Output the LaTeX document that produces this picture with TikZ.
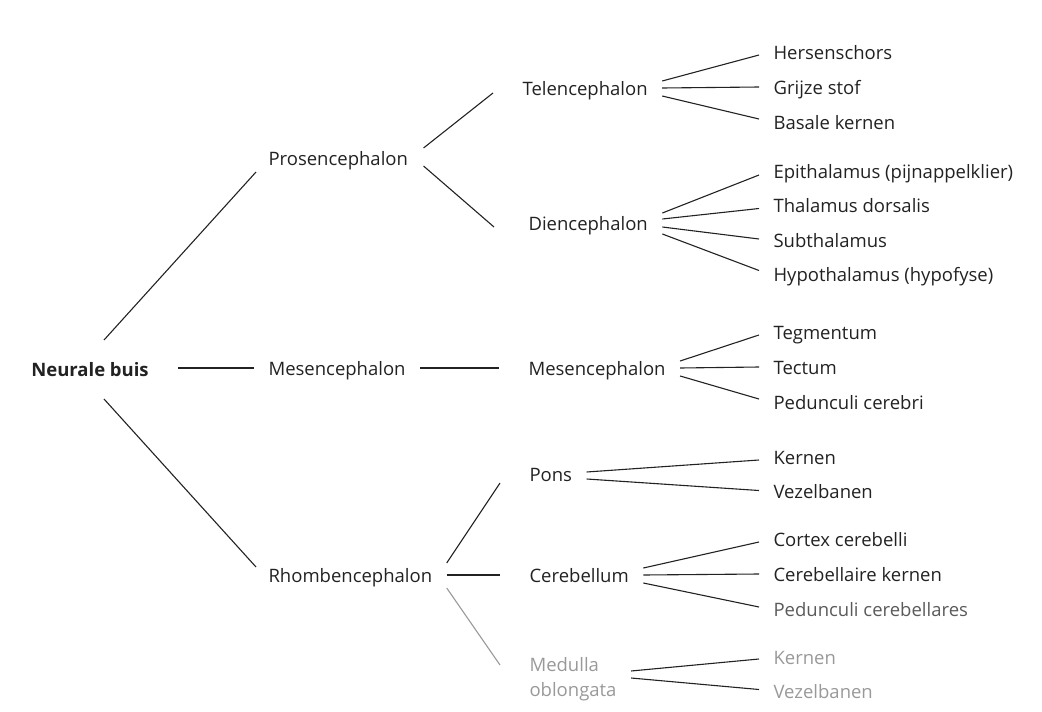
\documentclass[tikz,border=0pt]{standalone}
\usepackage{fontspec}
\setmainfont{Open Sans}
\usetikzlibrary{positioning}
\definecolor{inkgray}{HTML}{222222}
\definecolor{fadegray}{HTML}{999999}
\definecolor{midgray}{HTML}{5A5A5A}
\begin{document}
\begin{tikzpicture}[x=1pt, y=-1pt, line width=1.1pt, draw=inkgray,
    part/.style={anchor=west, inner xsep=14pt, inner ysep=0pt, text height=2.9ex, text depth=.25ex},
    root/.style={font=\fontsize{18.5pt}{22pt}\selectfont\bfseries, inner sep=0pt},
    faded/.style={text=fadegray}]
            \tikzstyle{every node}=[font=\fontsize{18.5pt}{25pt}\selectfont, text=inkgray]
            \useasboundingbox (0,0) rectangle (1042,712);

              % stam en hoofddelen
              \node[root] (buis) at (90,370) {Neurale buis};
              \node[part] (pros) at (254,158) {Prosencephalon};
              \node[part] (mesa) at (254,368) {Mesencephalon};
              \node[part] (rhomb) at (254,575) {Rhombencephalon};

              % tweede niveau
              \node[part] (tel) at (508,88) {Telencephalon};
              \node[part] (dien) at (514,223) {Diencephalon};
              \node[part] (mesb) at (514,368) {Mesencephalon};
              \node[part] (pons) at (515,474) {Pons};
              \node[part] (cereb) at (515,575) {Cerebellum};
              \node[part, faded, align=left, text height=, text depth=] (medulla) at (515,679) {Medulla\\oblongata};

              % onderdelen
              \node[part] (hers) at (759,52) {Hersenschors};
              \node[part] (grijze) [below=35pt of hers.west, anchor=west] {Grijze stof};
              \node[part] (basale) [below=35pt of grijze.west, anchor=west] {Basale kernen};

              \node[part] (epi) at (759,171) {Epithalamus (pijnappelklier)};
              \node[part] (thal) [below=34.5pt of epi.west, anchor=west] {Thalamus dorsalis};
              \node[part] (sub) [below=34.5pt of thal.west, anchor=west] {Subthalamus};
              \node[part] (hypo) [below=34.5pt of sub.west, anchor=west] {Hypothalamus (hypofyse)};

              \node[part] (teg) at (759,332) {Tegmentum};
              \node[part] (tect) [below=35pt of teg.west, anchor=west] {Tectum};
              \node[part] (pedb) [below=35pt of tect.west, anchor=west] {Pedunculi cerebri};

              \node[part] (kerna) at (759,457) {Kernen};
              \node[part] (veza) [below=34.5pt of kerna.west, anchor=west] {Vezelbanen};

              \node[part] (cortex) at (759,539) {Cortex cerebelli};
              \node[part] (cerk) [below=35pt of cortex.west, anchor=west] {Cerebellaire kernen};
              \node[part, text=midgray] (pedc) [below=35pt of cerk.west, anchor=west] {Pedunculi cerebellares};

              \node[part, faded] (kernb) at (759,657) {Kernen};
              \node[part, faded] (vezb) [below=34.5pt of kernb.west, anchor=west] {Vezelbanen};

              % verbindingen
              \draw ([shift={(14,-30)}]buis.center) -- ([shift={(2,14)}]pros.west);
              \draw ([xshift=29pt, yshift=2pt]buis.east) -- (mesa.west);
              \draw ([shift={(14,29)}]buis.center) -- ([shift={(2,-8)}]rhomb.west);

              \draw ([shift={(1,-10)}]pros.east) -- ([shift={(-15,5)}]tel.west);
              \draw ([shift={(1,8)}]pros.east) -- ([shift={(-20,4)}]dien.west);
              \draw (mesa.east) -- ([xshift=-15pt]mesb.west);
              \draw ([shift={(0,-12)}]rhomb.east) -- ([shift={(-15,9)}]pons.west);
              \draw (rhomb.east) -- ([xshift=-15pt]cereb.west);
              \draw[fadegray] ([shift={(0,13)}]rhomb.east) -- ([shift={(-15,-14)}]medulla.west);

              \draw ([shift={(0,-7)}]tel.east) -- ([shift={(0,3)}]hers.west);
              \draw (tel.east) -- (grijze.west);
              \draw ([shift={(0,8)}]tel.east) -- ([shift={(0,-3)}]basale.west);

              \draw ([shift={(0,-10)}]dien.east) -- ([shift={(0,4)}]epi.west);
              \draw ([shift={(0,-4)}]dien.east) -- ([shift={(0,3)}]thal.west);
              \draw ([shift={(0,4)}]dien.east) -- ([shift={(0,-1)}]sub.west);
              \draw ([shift={(0,11)}]dien.east) -- ([shift={(0,-4)}]hypo.west);

              \draw ([shift={(0,-7)}]mesb.east) -- ([shift={(0,3)}]teg.west);
              \draw (mesb.east) -- (tect.west);
              \draw ([shift={(0,8)}]mesb.east) -- ([shift={(0,-3)}]pedb.west);

              \draw ([shift={(0,-2)}]pons.east) -- ([shift={(0,3)}]kerna.west);
              \draw ([shift={(0,5)}]pons.east) -- ([shift={(0,-1)}]veza.west);

              \draw ([shift={(0,-7)}]cereb.east) -- ([shift={(0,3)}]cortex.west);
              \draw (cereb.east) -- (cerk.west);
              \draw ([shift={(0,8)}]cereb.east) -- ([shift={(0,-2)}]pedc.west);

              \draw ([shift={(0,-8)}]medulla.east) -- ([shift={(0,2)}]kernb.west);
              \draw ([shift={(0,-1)}]medulla.east) -- ([shift={(0,-2)}]vezb.west);

            \end{tikzpicture}
\end{document}
